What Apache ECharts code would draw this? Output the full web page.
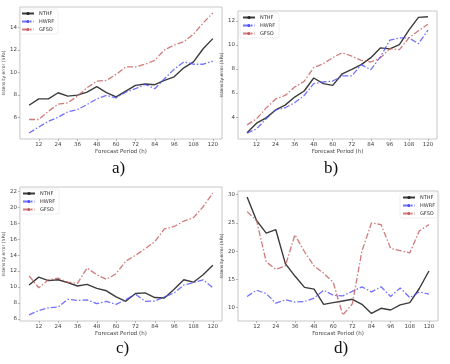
<!DOCTYPE html>
<html>
<head>
<meta charset="utf-8">
<script src="https://cdn.jsdelivr.net/npm/echarts@6/dist/echarts.min.js"></script>
<style>
  html, body { margin: 0; padding: 0; background: #fff; }
  #main { width: 450px; height: 364px; }
</style>
</head>
<body>
<div id="main"></div>
<script>
// forecast lead times (h)
const hours = [6, 12, 18, 24, 30, 36, 42, 48, 54, 60, 66, 72, 78, 84, 90, 96, 102, 108, 114, 120];
const xTicks = [12, 24, 36, 48, 60, 72, 84, 96, 108, 120];
const names = ['NTHF', 'HWRF', 'GFSO'];
const captions = ['a)', 'b)', 'c)', 'd)'];

// panel a
const aNTHF = [7.07, 7.64, 7.64, 8.18, 7.88, 7.97, 8.24, 8.72, 8.2, 7.82, 8.33, 8.84, 8.96, 8.9, 9.28, 9.6, 10.4, 10.93, 12.1, 13.0];
const aHWRF = [4.6, 5.13, 5.64, 6.0, 6.48, 6.69, 7.13, 7.64, 7.94, 7.73, 8.24, 8.54, 8.93, 8.54, 9.43, 10.27, 10.93, 10.72, 10.72, 11.0];
const aGFSO = [5.8, 5.8, 6.54, 7.16, 7.28, 7.88, 8.63, 9.22, 9.28, 9.82, 10.48, 10.48, 10.72, 11.07, 12.0, 12.42, 12.72, 13.4, 14.39, 15.28];
const aTicks = [6, 8, 10, 12, 14];

// panel b
const bNTHF = [2.7, 3.5, 3.94, 4.6, 5.0, 5.67, 6.17, 7.25, 6.78, 6.64, 7.6, 7.97, 8.36, 8.94, 9.75, 9.67, 10.03, 11.22, 12.28, 12.33];
const bHWRF = [2.67, 3.03, 3.86, 4.6, 4.78, 5.2, 5.8, 6.78, 6.92, 7.0, 7.42, 7.42, 8.36, 7.94, 9.0, 10.39, 10.58, 10.58, 10.1, 11.22];
const bGFSO = [3.36, 3.86, 4.75, 5.5, 5.8, 6.5, 6.97, 8.11, 8.44, 8.94, 9.36, 9.06, 8.72, 8.58, 8.92, 9.69, 9.6, 10.58, 11.17, 11.72];
const bTicks = [4, 6, 8, 10, 12];

// panel c
const cNTHF = [10.25, 11.23, 10.8, 10.9, 10.55, 10.12, 10.33, 9.82, 9.52, 8.75, 8.2, 9.18, 9.26, 8.67, 8.62, 9.7, 10.9, 10.6, 11.53, 12.73];
const cHWRF = [6.49, 7.04, 7.38, 7.47, 8.45, 8.32, 8.37, 7.9, 8.2, 7.81, 8.41, 9.09, 8.2, 8.24, 8.75, 9.26, 10.25, 10.55, 10.9, 9.91];
const cGFSO = [11.4, 9.9, 10.9, 11.1, 10.6, 10.46, 12.38, 11.53, 10.97, 11.66, 13.24, 13.97, 14.82, 15.68, 17.3, 17.6, 18.28, 18.7, 20.08, 21.79];
const cTicks = [6, 8, 10, 12, 14, 16, 18, 20, 22];

// panel d
const dNTHF = [29.6, 25.4, 23.2, 23.8, 17.8, 15.6, 13.6, 13.3, 10.6, 10.9, 11.2, 11.5, 10.6, 9.0, 9.9, 9.6, 10.5, 10.9, 13.4, 16.5];
const dHWRF = [12.0, 13.1, 12.5, 10.8, 11.4, 11.0, 11.1, 11.7, 13.1, 12.2, 12.1, 12.9, 13.7, 12.8, 13.7, 12.0, 13.5, 11.8, 12.8, 12.4];
const dGFSO = [27.0, 25.4, 18.1, 16.8, 17.4, 22.9, 19.9, 17.4, 16.1, 14.5, 8.7, 10.7, 20.0, 25.0, 24.7, 20.5, 20.1, 19.7, 23.6, 24.7];
const dTicks = [10, 15, 20, 25, 30];

const panels = [
  { series: [aNTHF, aHWRF, aGFSO], ticks: aTicks, grid: { left: 17, top: 7, width: 205, height: 132 }, legend: { left: 19, top: 9 }, caption: { left: 112, top: 160 } },
  { series: [bNTHF, bHWRF, bGFSO], ticks: bTicks, grid: { left: 238, top: 11, width: 199, height: 128 }, legend: { left: 240, top: 13 }, caption: { left: 324, top: 160 } },
  { series: [cNTHF, cHWRF, cGFSO], ticks: cTicks, grid: { left: 18, top: 187, width: 204, height: 134 }, legend: { left: 20, top: 189 }, caption: { left: 116, top: 340 } },
  { series: [dNTHF, dHWRF, dGFSO], ticks: dTicks, grid: { left: 238, top: 191, width: 200, height: 130 }, legend: { left: 400, top: 193 }, caption: { left: 334, top: 340 } }
];

const C = { NTHF: '#262626', HWRF: '#4d4dff', GFSO: '#c45a5a' };
const lineType = { NTHF: 'solid', HWRF: [6, 2, 1.5, 2], GFSO: [6, 2, 1.5, 2] };
const font = 'DejaVu Sans';

const chart = echarts.init(document.getElementById('main'), null, { renderer: 'canvas' });

const grids = [], xAxes = [], yAxes = [], series = [], legends = [], titles = [];
panels.forEach((p, k) => {
  // matplotlib style 5% margins
  const all = [].concat(...p.series);
  const lo = Math.min(...all), hi = Math.max(...all);
  const pad = (hi - lo) * 0.05;
  grids.push({ ...p.grid, show: true, borderColor: '#c8c8c8', borderWidth: 1, backgroundColor: '#fff' });
  xAxes.push({
    type: 'value', gridIndex: k, min: 0.3, max: 125.7,
    name: 'Forecast Period (h)', nameLocation: 'middle', nameGap: 8,
    nameTextStyle: { fontSize: 5.5, color: '#444', fontFamily: font },
    axisLine: { show: false },
    splitLine: { show: false },
    axisTick: { show: true, customValues: xTicks, length: 2, lineStyle: { color: '#888', width: 0.6 } },
    axisLabel: { customValues: xTicks, fontSize: 5.5, color: '#444', margin: 3, fontFamily: font }
  });
  yAxes.push({
    type: 'value', gridIndex: k, min: lo - pad, max: hi + pad,
    name: 'Intensity error (hPa)', nameLocation: 'middle', nameGap: 10, nameRotate: 90,
    nameTextStyle: { fontSize: 4.5, color: '#444', fontFamily: font },
    axisLine: { show: false },
    splitLine: { show: false },
    axisTick: { show: true, customValues: p.ticks, length: 2, lineStyle: { color: '#888', width: 0.6 } },
    axisLabel: { customValues: p.ticks, fontSize: 5.5, color: '#444', margin: 3, fontFamily: font }
  });
  p.series.forEach((vals, j) => {
    const n = names[j];
    series.push({
      name: n, type: 'line', xAxisIndex: k, yAxisIndex: k,
      symbol: 'none', silent: true,
      lineStyle: { color: C[n], width: j === 0 ? 1.4 : 1.3, type: lineType[n], opacity: j === 0 ? 0.9 : 0.8 },
      itemStyle: { color: C[n] },
      data: hours.map((h, i) => [h, vals[i]])
    });
  });
  legends.push({
    ...p.legend, orient: 'vertical', data: names,
    itemWidth: 12, itemHeight: 4, itemGap: 3,
    padding: [2, 4, 2, 2],
    borderColor: '#e4e4e4', borderWidth: 0.6, borderRadius: 2,
    textStyle: { fontSize: 5, color: '#333', fontFamily: font }
  });
  titles.push({
    text: captions[k], ...p.caption, padding: 0,
    textStyle: { fontFamily: 'Liberation Serif', fontSize: 17, fontWeight: 'normal', color: '#111' }
  });
});

chart.setOption({
  backgroundColor: '#fff',
  animation: false,
  title: titles,
  legend: legends,
  grid: grids,
  xAxis: xAxes,
  yAxis: yAxes,
  series: series
});
</script>
</body>
</html>
